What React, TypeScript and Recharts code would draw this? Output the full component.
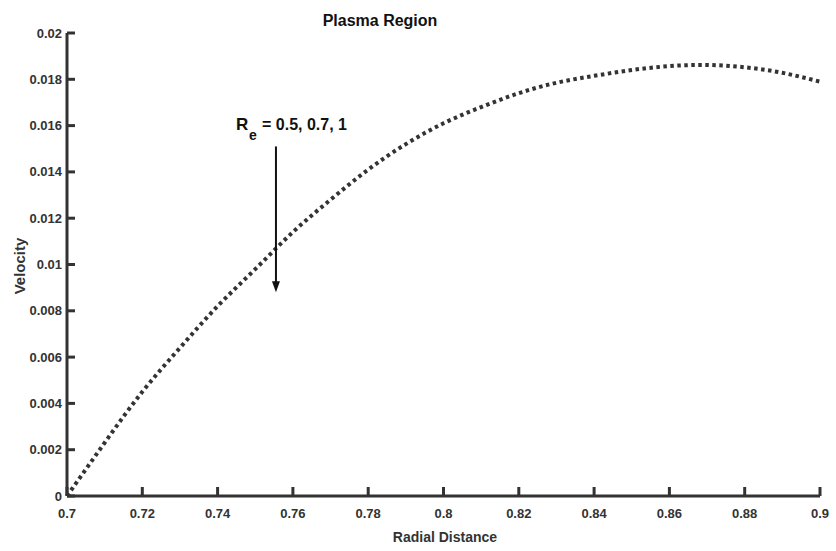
import { LineChart, Line, XAxis, YAxis, ReferenceLine, Customized } from "recharts";

const radialDistance = [
  0.7, 0.71, 0.72, 0.73, 0.74, 0.75, 0.76, 0.77, 0.78, 0.79, 0.8, 0.81, 0.82,
  0.83, 0.84, 0.85, 0.86, 0.87, 0.88, 0.89, 0.9,
];
const velocity = [
  0.0, 0.0023, 0.0045, 0.0064, 0.0082, 0.0098, 0.0114, 0.0128, 0.0141,
  0.0152, 0.0161, 0.0168, 0.0174, 0.01785, 0.01815, 0.0184, 0.01857, 0.01862,
  0.01852, 0.01828, 0.0179,
];
const xTicks = [0.7, 0.72, 0.74, 0.76, 0.78, 0.8, 0.82, 0.84, 0.86, 0.88, 0.9];
const yTicks = [
  0, 0.002, 0.004, 0.006, 0.008, 0.01, 0.012, 0.014, 0.016, 0.018, 0.02,
];
const arrowX = 0.7555;
const arrowTop = 0.0151;
const arrowTip = 0.0088;

const data = radialDistance.map((r, i) => ({ r, v: velocity[i] }));

const INK = "#333";
const FONT = "'Liberation Sans', Arial, sans-serif";

const fmt = (v: number) => String(Number(v.toFixed(4)));

function YTick(props: any) {
  const { x, y, payload } = props;
  return (
    <g>
      <line x1={x} y1={y} x2={x + 8} y2={y} stroke={INK} strokeWidth={3} />
      <text
        x={x - 5}
        y={y + 4.5}
        textAnchor="end"
        fontFamily={FONT}
        fontWeight="bold"
        fontSize={13}
        fill={INK}
      >
        {fmt(payload.value)}
      </text>
    </g>
  );
}

function XTick(props: any) {
  const { x, y, payload } = props;
  return (
    <g>
      <line x1={x} y1={y} x2={x} y2={y - 9} stroke={INK} strokeWidth={3} />
      <text
        x={x}
        y={y + 22}
        textAnchor="middle"
        fontFamily={FONT}
        fontWeight="bold"
        fontSize={13}
        fill={INK}
      >
        {fmt(payload.value)}
      </text>
    </g>
  );
}

function Arrow(props: any) {
  const { x1, y1, x2, y2 } = props;
  return (
    <g>
      <line x1={x1} y1={y1} x2={x2} y2={y2 - 9} stroke="#111" strokeWidth={2} />
      <polygon
        points={`${x2 - 4},${y2 - 11} ${x2 + 4},${y2 - 11} ${x2},${y2}`}
        fill="#111"
      />
    </g>
  );
}

function Labels() {
  return (
    <g fontFamily={FONT} fontWeight="bold" fill="#111">
      <text x={380} y={26} textAnchor="middle" fontSize={16}>
        Plasma Region
      </text>
      <text
        x={0}
        y={0}
        transform="translate(25,266) rotate(-90)"
        textAnchor="middle"
        fontSize={15}
        fill={INK}
      >
        Velocity
      </text>
      <text x={445} y={542} textAnchor="middle" fontSize={14} fill={INK}>
        Radial Distance
      </text>
      <text x={236} y={130} fontSize={17}>
        R
      </text>
      <text x={249} y={140} fontSize={14}>
        e
      </text>
      <text x={262} y={130} fontSize={16}>
        = 0.5, 0.7, 1
      </text>
    </g>
  );
}

export default function App() {
  return (
    <div style={{ position: "absolute", left: 0, top: 0, background: "#fff" }}>
      <LineChart
        width={836}
        height={551}
        data={data}
        margin={{ top: 33, right: 16, bottom: 25, left: 0 }}
      >
        <XAxis
          dataKey="r"
          type="number"
          domain={[0.7, 0.9]}
          ticks={xTicks}
          height={30}
          tickSize={0}
          tickMargin={0}
          tickLine={false}
          tick={<XTick />}
          axisLine={{ stroke: INK, strokeWidth: 3 }}
          interval={0}
        />
        <YAxis
          type="number"
          domain={[0, 0.02]}
          ticks={yTicks}
          width={67}
          tickSize={0}
          tickMargin={0}
          tickLine={false}
          tick={<YTick />}
          axisLine={{ stroke: INK, strokeWidth: 3 }}
          interval={0}
        />
        <Line
          type="natural"
          dataKey="v"
          stroke="#333"
          strokeWidth={4}
          strokeDasharray="3.5 3.5"
          dot={false}
          activeDot={false}
          isAnimationActive={false}
        />
        <ReferenceLine
          segment={[
            { x: arrowX, y: arrowTop },
            { x: arrowX, y: arrowTip },
          ]}
          shape={<Arrow />}
          ifOverflow="visible"
        />
        <Customized component={<Labels />} />
      </LineChart>
    </div>
  );
}
